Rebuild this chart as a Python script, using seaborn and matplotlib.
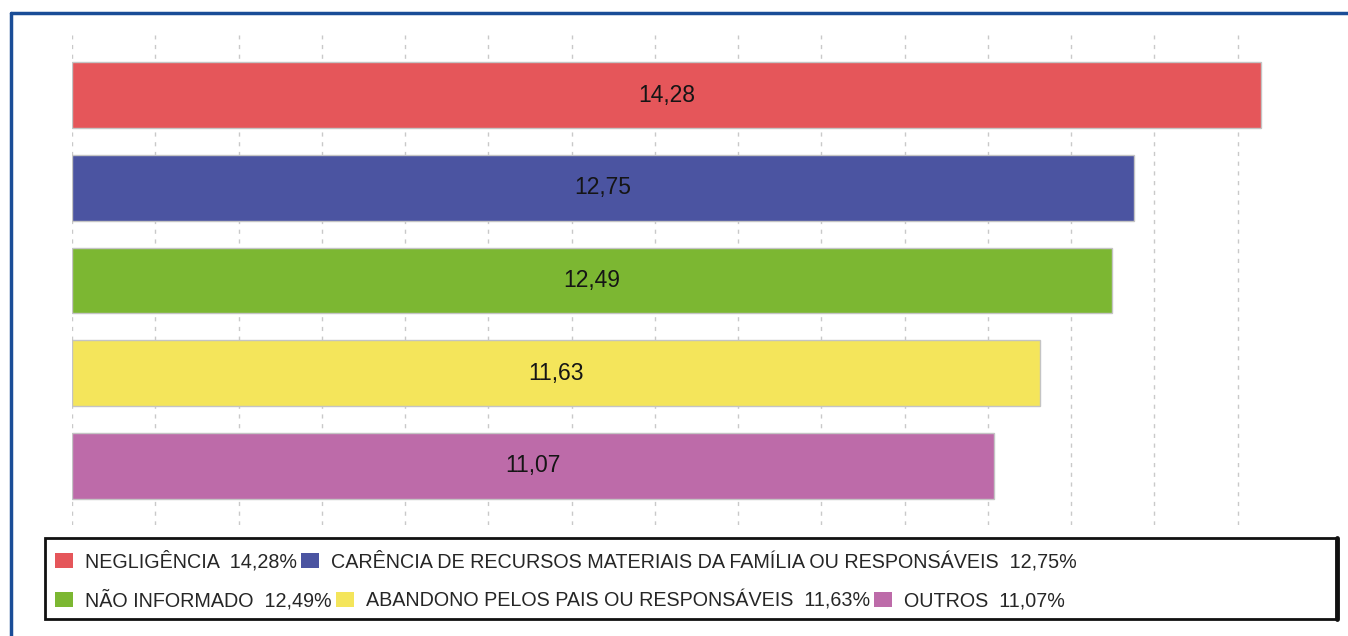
import pandas as pd
import seaborn as sns
import matplotlib.pyplot as plt
from matplotlib.patches import Patch, Rectangle
from matplotlib.lines import Line2D

# values
categories = ['NEGLIGÊNCIA', 'CARÊNCIA DE RECURSOS MATERIAIS DA FAMÍLIA OU RESPONSÁVEIS',
              'NÃO INFORMADO', 'ABANDONO PELOS PAIS OU RESPONSÁVEIS', 'OUTROS']
values = [14.28, 12.75, 12.49, 11.63, 11.07]
colors = ['#E5565A', '#4B54A1', '#7CB732', '#F4E55B', '#BD6BA9']
grid_ticks = list(range(0, 15))


def fmt(v):
    return f'{v:.2f}'.replace('.', ',')


data = pd.DataFrame({'categoria': categories, 'valor': values})

sns.set_theme(style='white')
plt.rcParams['font.family'] = ['Liberation Sans', 'DejaVu Sans']

fig = plt.figure(figsize=(13.48, 6.36), dpi=100)
ax = fig.add_axes([72 / 1348, 1 - 525 / 636, 1249 / 1348, 490 / 636])

sns.barplot(data=data, y='categoria', x='valor', hue='categoria', palette=colors,
            orient='h', width=0.71, legend=False, ax=ax,
            edgecolor='#c4c4c4', linewidth=1, saturation=1)

for cont, v in zip(ax.containers, values):
    ax.bar_label(cont, labels=[fmt(v)], label_type='center', fontsize=16.5, color='#151515')

ax.set_xlim(0, 15)
ax.set_ylim(4.64, -0.65)
ax.set_xticks(grid_ticks)
ax.set_xticklabels([])
ax.set_yticks([])
ax.set(xlabel='', ylabel='')
ax.tick_params(length=0)
ax.xaxis.grid(True, color='#c9c9c9', linestyle=(0, (3, 4)), linewidth=1)
ax.set_axisbelow(True)
for s in ax.spines.values():
    s.set_visible(False)

# legend: two flowing rows inside one black box
handles = [Patch(facecolor=c, edgecolor='none') for c in colors]
texts = [f'{c}  {fmt(v)}%' for c, v in zip(categories, values)]
common = dict(frameon=False, fontsize=14.2, handlelength=0.92, handleheight=0.8,
              handletextpad=0.6, columnspacing=0.2, borderpad=0, borderaxespad=0,
              loc='center left')
fig.legend(handles[:2], texts[:2], ncol=2, bbox_to_anchor=(55 / 1348, 1 - 561 / 636), **common)
fig.legend(handles[2:], texts[2:], ncol=3, bbox_to_anchor=(55 / 1348, 1 - 600 / 636), **common)

fig.add_artist(Rectangle((45 / 1348, 1 - 619 / 636), 1292 / 1348, 81 / 636,
                         transform=fig.transFigure, fill=False, edgecolor='#111111', linewidth=2))
fig.add_artist(Line2D([1337 / 1348, 1337 / 1348], [1 - 619 / 636, 1 - 538 / 636],
                      transform=fig.transFigure, color='#111111', linewidth=3.5))

# outer blue frame (open on the right and bottom)
fig.add_artist(Line2D([11 / 1348, 1.0], [1 - 13 / 636, 1 - 13 / 636],
                      transform=fig.transFigure, color='#1A4D97', linewidth=2.5))
fig.add_artist(Line2D([11 / 1348, 11 / 1348], [0.0, 1 - 13 / 636],
                      transform=fig.transFigure, color='#1A4D97', linewidth=2.5))

fig.savefig('out.png', dpi=100)
